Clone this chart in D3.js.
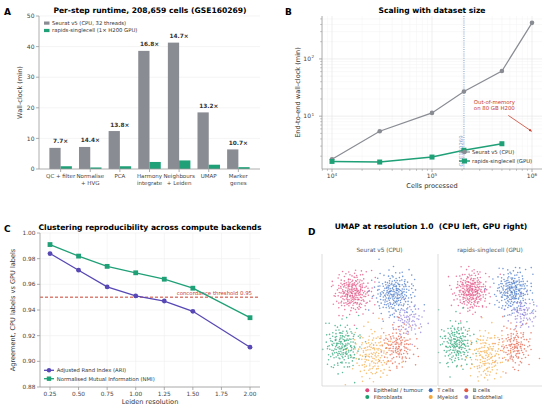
<!DOCTYPE html>
<html>
<head>
<meta charset="utf-8">
<script src="https://cdn.jsdelivr.net/npm/d3@7"></script>
<style>
  body { margin: 0; background: #fff; }
  svg { font-family: "DejaVu Sans", sans-serif; }
</style>
</head>
<body>
<svg id="fig" width="550" height="409"></svg>
<script>
// ---- panel A: per-step runtime
const steps = ["QC + filter", "Normalise\n+ HVG", "PCA", "Harmony\nintegrate", "Neighbours\n+ Leiden", "UMAP", "Marker\ngenes"];
const cpuMinutes = [6.9, 7.2, 12.4, 38.6, 41.3, 18.5, 6.4];
const gpuMinutes = [0.9, 0.5, 0.9, 2.3, 2.8, 1.4, 0.6];
const speedups = ["7.7×", "14.4×", "13.8×", "16.8×", "14.7×", "13.2×", "10.7×"];
const runtimeTicks = [0, 10, 20, 30, 40, 50];

// ---- panel B: scaling
const cellCounts = [1e4, 3e4, 1e5, 208659, 5e5, 1e6];
const seuratTotal = [1.76, 5.45, 11.4, 27, 61.5, 427];
const rapidsCells = [1e4, 3e4, 1e5, 208659, 5e5];
const rapidsTotal = [1.62, 1.58, 1.93, 2.54, 3.3];
const decadeTicksX = [1e4, 1e5, 1e6];
const decadeTicksY = [1e1, 1e2];

// ---- panel C: clustering agreement
const resolutions = [0.25, 0.5, 0.75, 1.0, 1.25, 1.5, 2.0];
const ariValues = [0.984, 0.971, 0.958, 0.951, 0.947, 0.939, 0.911];
const nmiValues = [0.991, 0.982, 0.974, 0.969, 0.964, 0.957, 0.934];
const resolutionTicks = [0.25, 0.5, 0.75, 1.0, 1.25, 1.5, 1.75, 2.0];
const agreementTicks = [0.88, 0.90, 0.92, 0.94, 0.96, 0.98, 1.00];

// ---- panel D: UMAP cluster summaries (centre, spread, count)
const cellTypes = ["Epithelial / tumour", "T cells", "B cells", "Fibroblasts", "Myeloid", "Endothelial"];
const typeColors = ["#e0457b", "#3a6fc4", "#e4573d", "#1b9e6e", "#f5a63a", "#8b79d9"];
const cpuCentres = [[2.7, 7.1], [6.3, 7.0], [6.6, 3.0], [1.8, 3.0], [4.4, 2.35], [7.5, 5.0]];
const gpuCentres = [[3.2, 7.2], [7.2, 7.2], [7.4, 3.0], [1.8, 3.2], [4.7, 2.3], [8.2, 5.5]];
const clusterSpread = [[0.8, 0.75], [0.85, 0.8], [0.75, 0.8], [0.75, 0.85], [0.85, 1.0], [0.7, 0.6]];
const clusterCounts = [240, 220, 130, 180, 150, 75];

const grey = "#8a8c94", green = "#1fa077", ariBlue = "#5748b5", red = "#c9402f";
const spine = "#999", tickText = "#444";

const svg = d3.select("#fig");

function panelLabel(x, y, t) {
  svg.append("text").attr("x", x).attr("y", y).attr("font-size", 9).attr("font-weight", "bold").text(t);
}
function title(x, y, t) {
  svg.append("text").attr("x", x).attr("y", y).attr("text-anchor", "middle")
    .attr("font-size", 7.6).attr("font-weight", "bold").attr("xml:space", "preserve").text(t);
}
function spines(g, x0, x1, y0, y1, col) {
  g.append("line").attr("x1", x0).attr("x2", x0).attr("y1", y0).attr("y2", y1).attr("stroke", col || spine).attr("stroke-width", 0.8);
  g.append("line").attr("x1", x0).attr("x2", x1).attr("y1", y1).attr("y2", y1).attr("stroke", col || spine).attr("stroke-width", 0.8);
}

// =================== A ===================
{
  const g = svg.append("g");
  const L = 39, R = 260, T = 16, B = 169;
  const x = d3.scaleLinear().domain([-0.73, 6.73]).range([L, R]);
  const y = d3.scaleLinear().domain([0, 50]).range([B, T]);
  const w = 0.38;

  g.selectAll(".grid").data(runtimeTicks.slice(1)).enter().append("line")
    .attr("x1", L).attr("x2", R).attr("y1", d => y(d)).attr("y2", d => y(d))
    .attr("stroke", "#ececec").attr("stroke-width", 0.6);

  g.selectAll(".cpu").data(cpuMinutes).enter().append("rect")
    .attr("x", (d, i) => x(i - w)).attr("width", x(w) - x(0))
    .attr("y", d => y(d)).attr("height", d => y(0) - y(d)).attr("fill", grey);
  g.selectAll(".gpu").data(gpuMinutes).enter().append("rect")
    .attr("x", (d, i) => x(i)).attr("width", x(w) - x(0))
    .attr("y", d => y(d)).attr("height", d => y(0) - y(d)).attr("fill", green);

  g.selectAll(".spd").data(speedups).enter().append("text")
    .attr("x", (d, i) => x(i)).attr("y", (d, i) => y(Math.max(cpuMinutes[i], gpuMinutes[i])) - 4.5)
    .attr("text-anchor", "middle").attr("font-size", 5.8).attr("font-weight", "bold").attr("fill", "#333")
    .text(d => d);

  spines(g, L, R, T, B);
  runtimeTicks.forEach(t => {
    g.append("line").attr("x1", L - 3).attr("x2", L).attr("y1", y(t)).attr("y2", y(t)).attr("stroke", spine).attr("stroke-width", 0.8);
    g.append("text").attr("x", L - 4.5).attr("y", y(t) + 2.1).attr("text-anchor", "end")
      .attr("font-size", 6).attr("fill", tickText).text(t);
  });
  steps.forEach((s, i) => {
    g.append("line").attr("x1", x(i)).attr("x2", x(i)).attr("y1", B).attr("y2", B + 3).attr("stroke", spine).attr("stroke-width", 0.8);
    s.split("\n").forEach((line, k) => {
      g.append("text").attr("x", x(i)).attr("y", B + 8.5 + k * 7.2).attr("text-anchor", "middle")
        .attr("font-size", 5.5).attr("fill", tickText).text(line);
    });
  });
  g.append("text").attr("transform", `translate(22,${(T + B) / 2}) rotate(-90)`).attr("text-anchor", "middle")
    .attr("font-size", 6.6).attr("fill", "#333").text("Wall-clock (min)");

  // legend
  [["Seurat v5 (CPU, 32 threads)", grey], ["rapids-singlecell (1× H200 GPU)", green]].forEach((d, k) => {
    g.append("rect").attr("x", 44).attr("y", 21.5 + k * 7.4).attr("width", 5.5).attr("height", 3.2).attr("fill", d[1]);
    g.append("text").attr("x", 52).attr("y", 25 + k * 7.4).attr("font-size", 5.3).attr("fill", "#333").text(d[0]);
  });

  title(150, 12.5, "Per-step runtime, 208,659 cells (GSE160269)");
  panelLabel(4, 15, "A");
}

// =================== B ===================
{
  const g = svg.append("g");
  const L = 322, R = 542, T = 16, B = 169;
  const x = d3.scaleLog().domain([Math.pow(10, 3.9), Math.pow(10, 6.1)]).range([L, R]);
  const y = d3.scaleLog().domain([Math.pow(10, 0.077), Math.pow(10, 2.75)]).range([B, T]);

  const minorX = [], minorY = [];
  [1e3, 1e4, 1e5, 1e6].forEach(p => d3.range(2, 10).forEach(m => {
    const v = p * m; if (v > x.domain()[0] && v < x.domain()[1]) minorX.push(v);
  }));
  [1, 10, 100].forEach(p => d3.range(2, 10).forEach(m => {
    const v = p * m; if (v > y.domain()[0] && v < y.domain()[1]) minorY.push(v);
  }));
  g.selectAll(".mx").data(minorX).enter().append("line")
    .attr("x1", d => x(d)).attr("x2", d => x(d)).attr("y1", T).attr("y2", B).attr("stroke", "#f2f2f2").attr("stroke-width", 0.5);
  g.selectAll(".my").data(minorY).enter().append("line")
    .attr("x1", L).attr("x2", R).attr("y1", d => y(d)).attr("y2", d => y(d)).attr("stroke", "#f2f2f2").attr("stroke-width", 0.5);
  g.selectAll(".Mx").data(decadeTicksX).enter().append("line")
    .attr("x1", d => x(d)).attr("x2", d => x(d)).attr("y1", T).attr("y2", B).attr("stroke", "#e4e4e4").attr("stroke-width", 0.6);
  g.selectAll(".My").data(decadeTicksY).enter().append("line")
    .attr("x1", L).attr("x2", R).attr("y1", d => y(d)).attr("y2", d => y(d)).attr("stroke", "#e4e4e4").attr("stroke-width", 0.6);

  // dataset marker
  g.append("line").attr("x1", x(208659)).attr("x2", x(208659)).attr("y1", T).attr("y2", B)
    .attr("stroke", "#9dbbe0").attr("stroke-width", 1.4).attr("stroke-dasharray", "1,1.2");
  g.append("text").attr("transform", `translate(${x(208659) - 0.5},151) rotate(-90)`).attr("text-anchor", "middle")
    .attr("font-size", 5.3).attr("fill", "#7fa3d4").text("GSE160269");

  const line = d3.line().x(d => x(d[0])).y(d => y(d[1]));
  const cpuPts = cellCounts.map((c, i) => [c, seuratTotal[i]]);
  const gpuPts = rapidsCells.map((c, i) => [c, rapidsTotal[i]]);
  g.append("path").attr("d", line(cpuPts)).attr("fill", "none").attr("stroke", grey).attr("stroke-width", 1.2);
  g.selectAll(".cp").data(cpuPts).enter().append("circle")
    .attr("cx", d => x(d[0])).attr("cy", d => y(d[1])).attr("r", 2.3).attr("fill", grey);
  g.append("path").attr("d", line(gpuPts)).attr("fill", "none").attr("stroke", green).attr("stroke-width", 1.5);
  g.selectAll(".gp").data(gpuPts).enter().append("rect")
    .attr("x", d => x(d[0]) - 2.5).attr("y", d => y(d[1]) - 2.5).attr("width", 5).attr("height", 5).attr("fill", green);

  // OOM annotation
  const defs = svg.append("defs");
  defs.append("marker").attr("id", "arr").attr("viewBox", "0 0 10 10").attr("refX", 9).attr("refY", 5)
    .attr("markerWidth", 4).attr("markerHeight", 4).attr("orient", "auto")
    .append("path").attr("d", "M0,0L10,5L0,10z").attr("fill", red);
  g.append("line").attr("x1", x(5.8e5)).attr("y1", y(10.3)).attr("x2", x(9.9e5)).attr("y2", y(5.45))
    .attr("stroke", red).attr("stroke-width", 0.8).attr("marker-end", "url(#arr)");
  ["Out-of-memory", "on 80 GB H200"].forEach((t, k) => {
    g.append("text").attr("x", x(4.2e5)).attr("y", 104 + k * 6.4).attr("text-anchor", "middle")
      .attr("font-size", 5.4).attr("fill", red).text(t);
  });

  spines(g, L, R, T, B);
  decadeTicksX.forEach(t => {
    g.append("line").attr("x1", x(t)).attr("x2", x(t)).attr("y1", B).attr("y2", B + 3).attr("stroke", spine).attr("stroke-width", 0.8);
    const tx = g.append("text").attr("x", x(t)).attr("y", B + 9).attr("text-anchor", "middle").attr("font-size", 6).attr("fill", tickText);
    tx.append("tspan").text("10");
    tx.append("tspan").attr("dy", -2.5).attr("font-size", 4.2).text(Math.round(Math.log10(t)));
  });
  minorX.forEach(t => g.append("line").attr("x1", x(t)).attr("x2", x(t)).attr("y1", B).attr("y2", B + 1.8).attr("stroke", spine).attr("stroke-width", 0.6));
  decadeTicksY.forEach(t => {
    g.append("line").attr("x1", L - 3).attr("x2", L).attr("y1", y(t)).attr("y2", y(t)).attr("stroke", spine).attr("stroke-width", 0.8);
    const ty = g.append("text").attr("x", L - 11).attr("y", y(t) + 2.2).attr("text-anchor", "end").attr("font-size", 6).attr("fill", tickText);
    ty.append("tspan").text("10");
    g.append("text").attr("x", L - 10.5).attr("y", y(t) - 0.5).attr("font-size", 4.2).attr("fill", tickText).text(Math.round(Math.log10(t)));
  });
  minorY.forEach(t => g.append("line").attr("x1", L - 1.8).attr("x2", L).attr("y1", y(t)).attr("y2", y(t)).attr("stroke", spine).attr("stroke-width", 0.6));

  g.append("text").attr("x", (L + R) / 2).attr("y", 188).attr("text-anchor", "middle").attr("font-size", 6.6).attr("fill", "#333").text("Cells processed");
  g.append("text").attr("transform", `translate(300,${(T + B) / 2}) rotate(-90)`).attr("text-anchor", "middle")
    .attr("font-size", 6.6).attr("fill", "#333").text("End-to-end wall-clock (min)");

  // legend
  const lg = g.append("g");
  lg.append("line").attr("x1", 459).attr("x2", 470).attr("y1", 152).attr("y2", 152).attr("stroke", grey).attr("stroke-width", 1.2);
  lg.append("circle").attr("cx", 464.5).attr("cy", 152).attr("r", 2.3).attr("fill", grey);
  lg.append("text").attr("x", 472).attr("y", 154).attr("font-size", 5.3).attr("fill", "#333").text("Seurat v5 (CPU)");
  lg.append("line").attr("x1", 459).attr("x2", 470).attr("y1", 161).attr("y2", 161).attr("stroke", green).attr("stroke-width", 1.5);
  lg.append("rect").attr("x", 462).attr("y", 158.5).attr("width", 5).attr("height", 5).attr("fill", green);
  lg.append("text").attr("x", 472).attr("y", 163).attr("font-size", 5.3).attr("fill", "#333").text("rapids-singlecell (GPU)");

  title((L + R) / 2, 12.5, "Scaling with dataset size");
  panelLabel(285, 15, "B");
}

// =================== C ===================
{
  const g = svg.append("g");
  const L = 40, R = 260, T = 233, B = 387;
  const x = d3.scaleLinear().domain([0.1625, 2.0875]).range([L, R]);
  const y = d3.scaleLinear().domain([0.88, 1.0]).range([B, T]);

  g.selectAll(".gx").data(resolutionTicks).enter().append("line")
    .attr("x1", d => x(d)).attr("x2", d => x(d)).attr("y1", T).attr("y2", B).attr("stroke", "#efefef").attr("stroke-width", 0.6);
  g.selectAll(".gy").data(agreementTicks).enter().append("line")
    .attr("x1", L).attr("x2", R).attr("y1", d => y(d)).attr("y2", d => y(d)).attr("stroke", "#efefef").attr("stroke-width", 0.6);

  g.append("line").attr("x1", L).attr("x2", R).attr("y1", y(0.95)).attr("y2", y(0.95))
    .attr("stroke", red).attr("stroke-width", 1).attr("stroke-dasharray", "3,2");
  g.append("text").attr("x", R - 8).attr("y", y(0.95) - 2.5).attr("text-anchor", "end")
    .attr("font-size", 5.4).attr("fill", red).text("concordance threshold 0.95");

  const line = d3.line().x((d, i) => x(resolutions[i])).y(d => y(d));
  g.append("path").attr("d", line(nmiValues)).attr("fill", "none").attr("stroke", green).attr("stroke-width", 1.3);
  g.selectAll(".nm").data(nmiValues).enter().append("rect")
    .attr("x", (d, i) => x(resolutions[i]) - 2.4).attr("y", d => y(d) - 2.4).attr("width", 4.8).attr("height", 4.8).attr("fill", green);
  g.append("path").attr("d", line(ariValues)).attr("fill", "none").attr("stroke", ariBlue).attr("stroke-width", 1.3);
  g.selectAll(".ar").data(ariValues).enter().append("circle")
    .attr("cx", (d, i) => x(resolutions[i])).attr("cy", d => y(d)).attr("r", 2.4).attr("fill", ariBlue);

  spines(g, L, R, T, B);
  resolutionTicks.forEach(t => {
    g.append("line").attr("x1", x(t)).attr("x2", x(t)).attr("y1", B).attr("y2", B + 3).attr("stroke", spine).attr("stroke-width", 0.8);
    g.append("text").attr("x", x(t)).attr("y", B + 9).attr("text-anchor", "middle").attr("font-size", 5.8).attr("fill", tickText).text(t.toFixed(2));
  });
  agreementTicks.forEach(t => {
    g.append("line").attr("x1", L - 3).attr("x2", L).attr("y1", y(t)).attr("y2", y(t)).attr("stroke", spine).attr("stroke-width", 0.8);
    g.append("text").attr("x", L - 4.5).attr("y", y(t) + 2.1).attr("text-anchor", "end").attr("font-size", 5.8).attr("fill", tickText).text(t.toFixed(2));
  });
  g.append("text").attr("x", (L + R) / 2).attr("y", 404).attr("text-anchor", "middle").attr("font-size", 6.6).attr("fill", "#333").text("Leiden resolution");
  g.append("text").attr("transform", `translate(15,${(T + B) / 2}) rotate(-90)`).attr("text-anchor", "middle")
    .attr("font-size", 6.6).attr("fill", "#333").text("Agreement, CPU labels vs GPU labels");

  const lg = g.append("g");
  lg.append("line").attr("x1", 44).attr("x2", 54).attr("y1", 370.3).attr("y2", 370.3).attr("stroke", ariBlue).attr("stroke-width", 1.3);
  lg.append("circle").attr("cx", 49).attr("cy", 370.3).attr("r", 2.2).attr("fill", ariBlue);
  lg.append("text").attr("x", 56.7).attr("y", 372.3).attr("font-size", 5.3).attr("fill", "#333").text("Adjusted Rand Index (ARI)");
  lg.append("line").attr("x1", 44).attr("x2", 54).attr("y1", 378.7).attr("y2", 378.7).attr("stroke", green).attr("stroke-width", 1.3);
  lg.append("rect").attr("x", 46.8).attr("y", 376.5).attr("width", 4.4).attr("height", 4.4).attr("fill", green);
  lg.append("text").attr("x", 56.7).attr("y", 380.7).attr("font-size", 5.3).attr("fill", "#333").text("Normalised Mutual Information (NMI)");

  title((L + R) / 2, 229.5, "Clustering reproducibility across compute backends");
  panelLabel(4, 232, "C");
}

// =================== D ===================
{
  // deterministic low-discrepancy layout (Halton 2/3 + Box-Muller) around each cluster summary
  function halton(i, b) {
    let f = 1, r = 0;
    while (i > 0) { f /= b; r += f * (i % b); i = Math.floor(i / b); }
    return r;
  }
  function cloud(centres, offset) {
    const pts = [];
    centres.forEach((c, k) => {
      const start = offset + k * 1373;
      for (let n = 0; n < clusterCounts[k]; n++) {
        const u = halton(start + n, 2), v = halton(start + n, 3);
        const r = Math.sqrt(-2 * Math.log(Math.max(u, 1e-4)));
        pts.push({ x: c[0] + clusterSpread[k][0] * r * Math.cos(2 * Math.PI * v),
                   y: c[1] + clusterSpread[k][1] * r * Math.sin(2 * Math.PI * v), k });
      }
    });
    return pts;
  }
  const panels = [
    { name: "Seurat v5 (CPU)", L: 322, R: 437, centres: cpuCentres, off: 101 },
    { name: "rapids-singlecell (GPU)", L: 438, R: 542, centres: gpuCentres, off: 9157 }
  ];
  const T = 254, B = 386;
  panels.forEach(p => {
    const g = svg.append("g");
    const x = d3.scaleLinear().domain([0, 10]).range([p.L, p.R]);
    const y = d3.scaleLinear().domain([0, 10]).range([B, T]);
    const pts = cloud(p.centres, p.off).filter(d => d.x > 0 && d.x < 10 && d.y > 0 && d.y < 10);
    g.selectAll("circle").data(pts).enter().append("circle")
      .attr("cx", d => x(d.x)).attr("cy", d => y(d.y)).attr("r", 0.8)
      .attr("fill", d => typeColors[d.k]).attr("opacity", 0.7);
    spines(g, p.L, p.R, T, B, "#d4d4d4");
    g.append("text").attr("x", (p.L + p.R) / 2).attr("y", 251.5).attr("text-anchor", "middle")
      .attr("font-size", 5.8).attr("fill", "#555").text(p.name);
  });

  const cols = [367.3, 430.7, 466.3], rows = [390.2, 396.9];
  cellTypes.forEach((name, i) => {
    const cx = cols[i % 3], cy = rows[Math.floor(i / 3)];
    svg.append("circle").attr("cx", cx).attr("cy", cy).attr("r", 2).attr("fill", typeColors[i]);
    svg.append("text").attr("x", cx + 6.5).attr("y", cy + 2).attr("font-size", 5.3).attr("fill", "#333").text(name);
  });

  title(431, 229, "UMAP at resolution 1.0  (CPU left, GPU right)");
  panelLabel(308, 235, "D");
}
</script>
</body>
</html>
